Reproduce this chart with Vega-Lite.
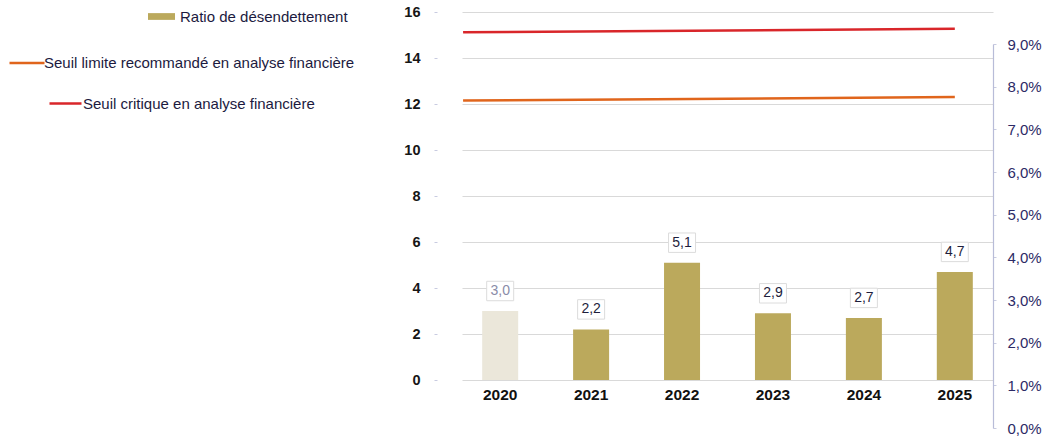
{
  "$schema": "https://vega.github.io/schema/vega-lite/v6.json",
  "autosize": {"type": "none"},
  "padding": {"left": 462, "top": 12, "right": 53, "bottom": 56},
  "width": 531,
  "height": 368,
  "config": {
    "view": {"stroke": null},
    "font": "Liberation Sans",
    "locale": {"number": {"decimal": ",", "thousands": " ", "grouping": [3], "currency": ["", " €"]}},
    "legend": {"padding": 0, "labelFont": "Liberation Sans", "labelFontSize": 15, "labelColor": "#1c1a40", "title": null, "labelLimit": 0}
  },
  "datasets": {
    "bars": [
      {"year": "2020", "value": 3.0, "serie": "Ratio de désendettement"},
      {"year": "2021", "value": 2.2, "serie": "Ratio de désendettement"},
      {"year": "2022", "value": 5.1, "serie": "Ratio de désendettement"},
      {"year": "2023", "value": 2.9, "serie": "Ratio de désendettement"},
      {"year": "2024", "value": 2.7, "serie": "Ratio de désendettement"},
      {"year": "2025", "value": 4.7, "serie": "Ratio de désendettement"}
    ],
    "limit": [
      {"start": "2020", "end": "2025", "v0": 12.15, "v1": 12.3, "serie": "Seuil limite recommandé en analyse financière"}
    ],
    "critical": [
      {"start": "2020", "end": "2025", "v0": 15.12, "v1": 15.27, "serie": "Seuil critique en analyse financière"}
    ],
    "right": [
      {"pct": 0.0},
      {"pct": 0.09}
    ]
  },
  "layer": [
    {
      "layer": [
        {
          "data": {"name": "bars"},
          "mark": {"type": "bar", "size": 36},
          "encoding": {
            "x": {
              "field": "year", "type": "nominal", "sort": null,
              "scale": {"paddingInner": 0.6, "paddingOuter": 0.22},
              "axis": {
                "title": null, "orient": "bottom", "domain": false, "ticks": false,
                "labelAngle": 0, "labelFontSize": 15.5, "labelFontWeight": "bold",
                "labelColor": "#111111", "labelPadding": 7
              }
            },
            "y": {
              "field": "value", "type": "quantitative",
              "scale": {"domain": [0, 16]},
              "axis": {
                "title": null, "values": [0, 2, 4, 6, 8, 10, 12, 14, 16],
                "offset": 25, "domain": false, "tickSize": 3, "tickColor": "#c8cbe0",
                "labelPadding": 14, "labelFontSize": 14.5, "labelFontWeight": "bold",
                "labelColor": "#161616", "grid": true, "gridColor": "#d9d9d9", "gridWidth": 1.2
              }
            },
            "fill": {
              "condition": {"test": "datum.year == '2020'", "value": "#ebe7da"},
              "field": "serie", "type": "nominal",
              "scale": {"range": ["#bba95c"]},
              "legend": {
                "orient": "none", "legendX": -314, "legendY": -9,
                "symbolType": "M-1,-0.25H1V0.25H-1Z", "symbolSize": 729,
                "symbolStrokeWidth": 0, "labelOffset": 5
              }
            }
          }
        },
        {
          "data": {"name": "bars"},
          "mark": {
            "type": "point", "shape": "M-1,-0.72H1V0.72H-1Z", "size": 729,
            "filled": true, "fill": "#ffffff", "stroke": "#dcdcdc", "strokeWidth": 1,
            "opacity": 1, "yOffset": -20
          },
          "encoding": {
            "x": {"field": "year", "type": "nominal", "sort": null},
            "y": {"field": "value", "type": "quantitative"}
          }
        },
        {
          "data": {"name": "bars"},
          "mark": {"type": "text", "fontSize": 14, "yOffset": -20, "baseline": "middle"},
          "encoding": {
            "x": {"field": "year", "type": "nominal", "sort": null},
            "y": {"field": "value", "type": "quantitative"},
            "text": {"field": "value", "type": "quantitative", "format": ".1f"},
            "color": {
              "condition": {"test": "datum.year == '2020'", "value": "#8a8ca8"},
              "value": "#1e1e3c"
            }
          }
        },
        {
          "data": {"name": "limit"},
          "mark": {"type": "rule", "strokeWidth": 2.5},
          "encoding": {
            "x": {"field": "start", "type": "nominal", "bandPosition": -0.52},
            "x2": {"field": "end", "bandPosition": 0.5},
            "y": {"field": "v0", "type": "quantitative"},
            "y2": {"field": "v1"},
            "stroke": {
              "field": "serie", "type": "nominal",
              "scale": {"range": ["#e0651c"]},
              "legend": {
                "orient": "none", "legendX": -454, "legendY": 32,
                "symbolType": "stroke", "symbolSize": 1225, "symbolStrokeWidth": 2.5,
                "labelOffset": -2
              }
            }
          }
        },
        {
          "data": {"name": "critical"},
          "mark": {"type": "rule", "strokeWidth": 2.5},
          "encoding": {
            "x": {"field": "start", "type": "nominal", "bandPosition": -0.52},
            "x2": {"field": "end", "bandPosition": 0.5},
            "y": {"field": "v0", "type": "quantitative"},
            "y2": {"field": "v1"},
            "color": {
              "field": "serie", "type": "nominal",
              "scale": {"range": ["#d9262a"]},
              "legend": {
                "orient": "none", "legendX": -414, "legendY": 74,
                "symbolType": "stroke", "symbolSize": 1024, "symbolStrokeWidth": 2.5,
                "labelOffset": 0
              }
            }
          }
        }
      ]
    },
    {
      "data": {"name": "right"},
      "mark": {"type": "tick", "opacity": 0},
      "encoding": {
        "y": {
          "field": "pct", "type": "quantitative",
          "scale": {"domain": [0, 0.09], "range": [416, 32], "nice": false, "zero": false},
          "axis": {
            "orient": "right", "title": null, "format": ".1%",
            "values": [0, 0.01, 0.02, 0.03, 0.04, 0.05, 0.06, 0.07, 0.08, 0.09],
            "domain": true, "domainColor": "#b8bcd8", "domainWidth": 1.2,
            "tickSize": 3, "tickColor": "#c8cbe0", "labelPadding": 11,
            "labelFontSize": 15, "labelColor": "#2c2a66", "grid": false
          }
        }
      }
    }
  ],
  "resolve": {"scale": {"y": "independent"}}
}
